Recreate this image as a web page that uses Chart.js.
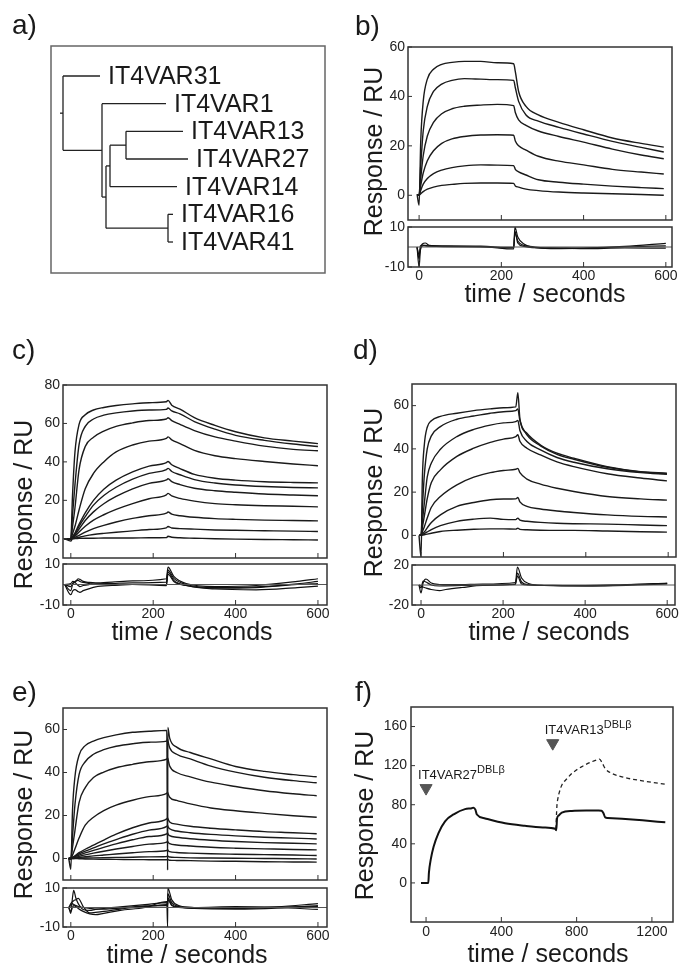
<!DOCTYPE html>
<html>
<head>
<meta charset="utf-8">
<script src="https://cdn.jsdelivr.net/npm/chart.js@4.4.1/dist/chart.umd.min.js"></script>
<style>
  body { margin: 0; background: #fff; }
  #page { position: relative; width: 680px; height: 970px; overflow: hidden; background: #fff;
          font-family: "Liberation Sans", Arial, sans-serif; color: #1a1a1a; }
  #page canvas { position: absolute; left: 0; top: 0; }
  .tag { position: absolute; font-size: 28px; line-height: 28px; }
  .xt { position: absolute; width: 240px; text-align: center; font-size: 25px; line-height: 25px; white-space: nowrap; }
  .yt { position: absolute; width: 240px; height: 25px; text-align: center; font-size: 25px; line-height: 25px;
        white-space: nowrap; transform: rotate(-90deg); }
</style>
</head>
<body>
<div id="page">
  <canvas id="treeA" width="680" height="970"></canvas>
  <canvas id="mainB" width="680" height="970"></canvas>
  <canvas id="residB" width="680" height="970"></canvas>
  <canvas id="mainC" width="680" height="970"></canvas>
  <canvas id="residC" width="680" height="970"></canvas>
  <canvas id="mainD" width="680" height="970"></canvas>
  <canvas id="residD" width="680" height="970"></canvas>
  <canvas id="mainE" width="680" height="970"></canvas>
  <canvas id="residE" width="680" height="970"></canvas>
  <canvas id="plotF" width="680" height="970"></canvas>

  <div class="tag" style="left:12px;top:11px">a)</div>
  <div class="tag" style="left:355px;top:12px">b)</div>
  <div class="tag" style="left:12px;top:336px">c)</div>
  <div class="tag" style="left:353px;top:336px">d)</div>
  <div class="tag" style="left:12px;top:678px">e)</div>
  <div class="tag" style="left:355px;top:678px">f)</div>

  <div class="yt" style="left:253px;top:139px">Response / RU</div>
  <div class="yt" style="left:-97px;top:492px">Response / RU</div>
  <div class="yt" style="left:253px;top:480px">Response / RU</div>
  <div class="yt" style="left:-97px;top:802px">Response / RU</div>
  <div class="yt" style="left:244px;top:803px">Response / RU</div>

  <div class="xt" style="left:425px;top:281px">time / seconds</div>
  <div class="xt" style="left:72px;top:619px">time / seconds</div>
  <div class="xt" style="left:429px;top:619px">time / seconds</div>
  <div class="xt" style="left:67px;top:942px">time / seconds</div>
  <div class="xt" style="left:428px;top:941px">time / seconds</div>
</div>
<script>
// ---- a) tree ----
const cladeNames = ["root", "n1", "n2", "n3", "n4", "n5",
  "IT4VAR31", "IT4VAR1", "IT4VAR13", "IT4VAR27", "IT4VAR14", "IT4VAR16", "IT4VAR41"];
const cladeParents = [null, "root", "n1", "n2", "n3", "n2",
  "root", "n1", "n4", "n4", "n3", "n5", "n5"];
const cladeDepths = [0, 0.39, 0.43, 0.47, 0.63, 1.05, 0.37, 1.03, 1.20, 1.25, 1.14, 1.10, 1.10];

// ---- b) ----
const bTime = [-5, 0, 4, 10, 20, 35, 55, 80, 110, 150, 190, 230, 234, 242, 260, 290, 340, 400, 470, 540, 595];
const bResponse = [
  [0.5, -4, 22, 38, 47, 51, 53, 53.8, 54.2, 54.2, 53.6, 53.2, 50, 42, 36, 32.5, 29.5, 26.5, 23.2, 21, 19.5],
  [0, 0, 12, 26, 36, 42, 45, 46.5, 47.2, 47, 46.8, 46.5, 43.5, 38, 32.5, 30, 27.5, 24.8, 21.8, 19.4, 17.5],
  [0, 0, 7, 16, 24, 29.5, 33, 35, 36, 36.5, 36.8, 36.3, 33.5, 30.5, 28.3, 26, 23.8, 21.5, 18.7, 16.3, 14.8],
  [0, 0, 4, 9, 14, 18, 21, 22.8, 23.8, 24.4, 24.5, 24.3, 22, 20, 18.3, 15.8, 13.8, 12.3, 10.5, 9.4, 8.6],
  [0, 0, 2, 4.5, 6.8, 8.8, 10.2, 11.2, 11.9, 12.3, 12.2, 12, 10.5, 9.5, 8.2, 6.3, 5.3, 4.5, 3.7, 3.1, 2.7],
  [0, 0, 0.6, 1.5, 2.5, 3.3, 4, 4.4, 4.8, 5, 5, 4.8, 3.8, 3.3, 2.5, 1.9, 1.3, 0.9, 0.6, 0.3, 0]
];
const bResTime = [-5, 0, 3, 8, 15, 25, 60, 150, 230, 233, 240, 255, 275, 320, 400, 500, 600];
const bResidual = [
  [0, -10, -2, 1.5, 2, 0.8, 0.6, 0.4, -0.5, 10, 5, 1.5, 0, -0.8, -0.6, 0.3, 1.8],
  [0, -4, -1, 0.5, 0.8, 0.5, 0.2, 0.2, -1, 7, 3, 0.8, 0.2, -0.6, -0.5, 0, 0.6],
  [0, -6, 0.5, 1, 0.6, 0.4, 0.3, 0, -0.2, 8, 2, 0.3, -0.3, -0.4, -0.8, -0.5, -0.6]
];

// ---- c) ----
const cTime = [-15, 0, 4, 10, 20, 35, 55, 80, 110, 150, 190, 232, 236, 245, 265, 300, 350, 400, 470, 540, 600];
const cResponse = [
  [0, 0, 22, 45, 59.5, 64.5, 67, 68.3, 69.3, 70.2, 70.8, 71.3, 72, 69.5, 67.5, 63, 59, 55.7, 52.5, 50.8, 49.5],
  [0, 0, 12, 28, 49, 58.5, 62.3, 64.3, 65.5, 66.5, 67, 67.3, 68, 66.5, 65, 61, 57, 53.8, 51.2, 49.3, 48],
  [0, 0, 6, 16, 36, 48, 52.8, 56, 58.5, 60.3, 61.5, 62.3, 63, 61.5, 59.5, 56.3, 53, 50.8, 48.2, 46.5, 45.8],
  [0, 0, 2.5, 6.5, 15, 26, 34, 40, 45.2, 48.8, 50.8, 52.2, 53, 51.5, 49.5, 46, 43.2, 41.7, 40.2, 38.9, 38],
  [0, 0, 1, 3, 7.5, 13.5, 20, 25.8, 30.5, 34.8, 37.8, 39.6, 40.2, 38.5, 36.5, 33.5, 31.5, 30.5, 29.7, 29.3, 29.1],
  [0, 0, 0.8, 2.5, 6.5, 11.5, 17.5, 22.5, 26.8, 31, 34, 36, 36.6, 35, 33.3, 30.8, 29, 28, 27.2, 26.7, 26.5],
  [0, 0, 0.6, 2, 5, 9.5, 14, 18.2, 22, 26, 28.8, 30.6, 31.2, 29.7, 28.2, 26.3, 25, 24.2, 23.3, 22.8, 22.4],
  [0, 0, 0.4, 1.3, 3.5, 6.5, 9.7, 12.5, 15.3, 18.3, 20.8, 22.9, 23.6, 22.3, 21, 19.6, 18.3, 17.7, 17.2, 16.9, 16.6],
  [0, 0, 0.2, 0.7, 1.8, 3.5, 5.3, 7, 8.7, 10.6, 12, 13.3, 13.9, 12.8, 12, 11.2, 10.5, 10.1, 9.7, 9.5, 9.3],
  [0, 0, 0.1, 0.3, 0.8, 1.5, 2.2, 2.8, 3.4, 4.1, 4.8, 5.7, 6.4, 5.6, 5.3, 5, 4.6, 4.4, 4.2, 4, 3.8],
  [0, -1.2, 0, 0.1, 0.2, 0.3, 0.3, 0.4, 0.4, 0.4, 0.5, 0.6, 1.3, 0.8, 0.5, 0.3, 0, -0.2, -0.4, -0.5, -0.6]
];
const cResTime = [-15, 0, 5, 10, 18, 22, 30, 45, 60, 100, 150, 232, 236, 250, 280, 350, 450, 550, 600];
const cResidual = [
  [0, -3, 0.5, 1, 2.8, 2.5, 1.5, 1, 0.8, 1.2, 1.8, 2.8, 8.5, 4, 0.5, -1, -0.5, 1.5, 2.8],
  [0, -5, -3, -2.5, -3.5, -3.8, -3, -2, -1.2, -0.5, 0, 0, 6, 2, -0.5, -2.2, -2.6, -1.5, -0.8],
  [0, 0.5, 1.5, 1, -0.5, -1, -0.5, 0, 0.3, 0.5, 0.8, 1.2, 7, 3, 0, -1.5, -1.2, 0.3, 1.5],
  [0, -1, 0.5, 1.5, 2, 1.5, 1, 0.5, 0, -0.2, 0, -0.5, 5, 1.5, -0.5, -1.8, -1.5, 0, 0.5]
];

// ---- d) ----
const dTime = [-5, 0, 3, 8, 15, 25, 47, 87, 128, 168, 200, 230, 235, 240, 257, 290, 330, 371, 452, 533, 597];
const dResponse = [
  [0, -10, 25, 42, 50, 53, 55, 56.5, 57.7, 58.5, 59, 59.4, 66, 54, 47.2, 41.8, 38, 35.7, 31.8, 29.5, 28.8],
  [0, 0, 12, 28, 40, 46, 50.3, 53.7, 55.2, 56.5, 57.2, 57.7, 58.5, 53, 46.5, 41.4, 37.5, 35.2, 31.5, 29.3, 28.5],
  [0, 0, 6, 15, 27, 33.5, 39.8, 45.7, 49, 51, 52, 52.6, 53.2, 48.5, 43.4, 39.5, 36, 33.8, 30.8, 29, 28.2],
  [0, 0, 3.5, 9, 17, 24.5, 30.3, 36.5, 40.3, 43, 44.5, 45.7, 46.5, 43.5, 40.3, 37.2, 34, 31.8, 28.5, 26.5, 25.2],
  [0, 0, 1.5, 4, 8, 13, 18, 23.4, 26.9, 29, 30, 30.6, 31, 29, 26, 23.7, 21.8, 20.3, 18, 16.9, 16.3],
  [0, 0, 0.6, 1.6, 3.5, 6, 9.5, 13.4, 15.2, 16.5, 16.8, 16.9, 17.5, 15.5, 13.4, 12.2, 11.3, 10.6, 9.5, 8.8, 8.5],
  [0, 0, 0.3, 0.8, 1.6, 2.7, 4.5, 6.5, 7.5, 8, 7.4, 7.3, 8, 7, 6.5, 6, 5.6, 5.4, 5.2, 4.8, 4.5],
  [0, 0, 0.1, 0.3, 0.6, 1, 1.8, 2.4, 2.8, 3, 3, 2.9, 3.3, 2.8, 2.6, 2.4, 2.3, 2.3, 2, 1.7, 1.5]
];
const dResTime = [-5, 0, 5, 12, 25, 45, 60, 100, 150, 230, 235, 245, 262, 300, 400, 500, 600];
const dResidual = [
  [0, -8, 2, 6, 2, 0.5, 0.3, 0.5, 1, 2.5, 18, 7, 1.5, -0.5, -1, 0, 2],
  [0, -3, 4, 3, 0, -1, -0.8, -0.5, 0, 0.5, 12, 3, 0.3, -0.3, -0.8, -0.3, 1],
  [0, -1, -2, -3, -4.5, -5.6, -4.5, -2.5, -0.5, 1, 9, 1, 0, -0.5, -0.5, 0.5, 1.5]
];

// ---- e) ----
const eTime = [-5, 0, 4, 10, 20, 35, 55, 80, 110, 150, 190, 233, 235, 235.5, 240, 257, 290, 340, 400, 470, 540, 597];
const eResponse = [
  [0, -5, 22, 38, 48, 52.5, 54.6, 56.2, 57.5, 58.7, 59.2, 59.6, -5.4, 61, 56, 51.8, 49.3, 46.3, 42.8, 40.5, 39, 38],
  [0, 0, 10, 25, 39, 45, 48.5, 50.6, 52.2, 53.4, 54.1, 54.6, 55.5, 55, 51.5, 48.5, 46.3, 43, 40.2, 37.8, 36.2, 35.2],
  [0, 0, 5, 13, 26, 33, 37.7, 40.2, 42.2, 43.8, 45, 46.2, 46.8, 46.5, 43, 40, 38, 35.5, 33.5, 31.5, 30.1, 29.2],
  [0, 0, 1.5, 4.5, 9.5, 15.5, 19.2, 22.3, 24.8, 27.1, 28.8, 30.3, 30.8, 30.5, 28.5, 27, 25.4, 23.5, 22.2, 21, 19.9, 19.2],
  [0, 0, 0.5, 1.3, 2.7, 4.3, 6.2, 8.6, 11.3, 14.3, 16.5, 18.4, 18.9, 18.6, 17, 16, 15, 14.1, 13.3, 12.5, 12, 11.5],
  [0, 0, 0.4, 1, 2.1, 3.4, 4.9, 6.8, 8.8, 11.3, 13.2, 14.9, 15.4, 15, 13.8, 12.8, 12, 11.2, 10.5, 9.9, 9.5, 9.1],
  [0, 0, 0.3, 0.8, 1.6, 2.6, 3.8, 5.2, 6.8, 8.7, 10.2, 11.5, 12, 11.6, 10.6, 9.9, 9.2, 8.5, 7.9, 7.4, 7.1, 6.8],
  [0, 0, 0.2, 0.5, 1, 1.7, 2.5, 3.4, 4.4, 5.6, 6.7, 7.6, 8.1, 7.8, 6.9, 6.3, 5.8, 5.2, 4.8, 4.5, 4.2, 4],
  [0, 0, 0.1, 0.2, 0.5, 0.8, 1.2, 1.6, 2.1, 2.7, 3.2, 3.7, 4.2, 3.9, 3.2, 2.8, 2.5, 2.2, 2, 1.8, 1.6, 1.4],
  [0, 0, 0, 0.05, 0.1, 0.2, 0.3, 0.4, 0.5, 0.6, 0.75, 0.9, 1.4, 1.1, 0.7, 0.5, 0.3, 0.2, 0.1, 0, -0.1, -0.2],
  [0, 0, 0, -0.05, -0.1, -0.2, -0.3, -0.35, -0.4, -0.5, -0.55, -0.6, -0.2, -0.5, -0.8, -0.9, -1, -1.2, -1.3, -1.5, -1.6, -1.7]
];
const eResTime = [-5, 0, 4, 7, 12, 18, 30, 46, 60, 80, 120, 180, 233, 235, 235.5, 245, 262, 300, 400, 500, 600];
const eResidual = [
  [0, -3, 5, 8.8, 5, 2, -1, -1.5, -1, -0.5, 0.3, 1.5, 2.5, -10, 10, 4, 1, 0, -0.5, 0.3, 2],
  [0, 2, 3, 3.5, 4, 4.7, 0.5, -2.8, -2.5, -2, -0.8, 0.5, 1.5, 2, 7, 2.5, 0.5, -0.5, -0.8, -0.3, 1],
  [0, -2, 0, 1, 0.5, -0.5, -2, -3.3, -3.7, -3, -1.5, 0, 3, 3, 5, 1.5, 0.3, 0, 0.5, 0, -1],
  [0, 1, 2, 1.5, 1, 0.5, 0, -0.5, -0.8, -0.8, -0.3, 0.8, 1, 1, 4, 1, 0, -0.3, 0, 0.2, 0.5]
];

// ---- f) ----
const fSolidTime = [-27, 12, 15, 25, 40, 66, 101, 154, 207, 243, 252, 262, 270, 314, 420, 527, 620, 686, 692, 696,
  705, 721, 775, 850, 917, 932, 942, 952, 965, 1041, 1150, 1271];
const fSolidResp = [0, 0, 10, 24, 37, 51, 63, 71, 75.5, 76.5, 77, 75, 70, 66, 61, 58.4, 56.8, 55.4, 54, 66,
  69, 72, 73.7, 74, 74, 73.8, 71.5, 67, 66.5, 65.6, 64, 62];
const fDashTime = [690, 695, 700, 710, 721, 750, 775, 828, 881, 917, 922, 935, 952, 988, 1058, 1165, 1271];
const fDashResp = [55, 78, 86, 94, 100, 107, 112, 119, 124, 126.4, 126.7, 123, 117, 112, 107.7, 104, 101];
const fMarkTime = [0, 673];
const fMarkResp = [97, 143];
const fMarkNames = ["IT4VAR27", "IT4VAR13"];

const sprTicks = [0, 200, 400, 600];
const FONT = '"Liberation Sans", Arial, sans-serif';

// frame box + inward tick marks, like the original plots
const framePlugin = {
    id: "frame",
    afterDatasetsDraw(chart, args, opts) {
        const { ctx, chartArea: a, scales } = chart;
        ctx.save();
        ctx.strokeStyle = opts.color || "#333";
        if (opts.ticks) {
            ctx.lineWidth = 1;
            scales.x.ticks.forEach(t => {
                const px = scales.x.getPixelForValue(t.value);
                ctx.beginPath(); ctx.moveTo(px, a.bottom); ctx.lineTo(px, a.bottom - 5); ctx.stroke();
            });
            scales.y.ticks.forEach(t => {
                const py = scales.y.getPixelForValue(t.value);
                ctx.beginPath(); ctx.moveTo(a.left, py); ctx.lineTo(a.left + 4, py); ctx.stroke();
            });
        }
        ctx.lineWidth = opts.width || 1.5;
        ctx.strokeRect(a.left, a.top, a.right - a.left, a.bottom - a.top);
        ctx.restore();
    }
};

const toPoints = (xs, ys) => xs.map((x, i) => ({ x: x, y: ys[i] }));

function curve(xs, ys, width, color) {
    return {
        data: toPoints(xs, ys), showLine: true, pointRadius: 0,
        borderWidth: width || 1.4, borderColor: color || "#1a1a1a",
        cubicInterpolationMode: "monotone"
    };
}

function zeroLine(xr) {
    return { data: [{ x: xr[0], y: 0 }, { x: xr[1], y: 0 }], showLine: true, pointRadius: 0, borderWidth: 1, borderColor: "#555" };
}

function makePlot(id, s) {
    const [l, t, r, b] = s.box;
    const wy = 40;
    const hx = s.xLabels ? 20 : 0;
    return new Chart(document.getElementById(id), {
        type: "scatter",
        data: { datasets: s.datasets },
        options: {
            responsive: false,
            animation: false,
            events: [],
            layout: { autoPadding: false, padding: { left: l - wy, top: t, right: 680 - r, bottom: 970 - b - hx } },
            plugins: {
                legend: { display: false },
                tooltip: { enabled: false },
                frame: { ticks: s.innerTicks !== false, color: s.frameColor || "#333", width: 1.5 }
            },
            scales: {
                x: {
                    type: "linear", position: "bottom", min: s.x[0], max: s.x[1],
                    grid: { display: false, drawTicks: false }, border: { display: false },
                    ticks: { display: !!s.xLabels, padding: s.xPad || 1, color: "#222", font: { family: FONT, size: 14 },
                             callback: v => String(v) },
                    afterBuildTicks: sc => { sc.ticks = (s.xTicks || []).map(v => ({ value: v })); },
                    afterFit: sc => { sc.height = hx; }
                },
                y: {
                    type: "linear", position: "left", min: s.y[0], max: s.y[1], reverse: !!s.yReverse,
                    grid: { display: false, drawTicks: false }, border: { display: false },
                    ticks: { display: s.yLabels !== false, padding: s.yPad || 3, color: "#222", font: { family: FONT, size: 14 },
                             callback: v => String(v) },
                    afterBuildTicks: sc => { sc.ticks = (s.yTicks || []).map(v => ({ value: v })); },
                    afterFit: sc => { sc.width = wy; }
                }
            }
        },
        plugins: [framePlugin].concat(s.plugins || [])
    });
}

// ---- a) tree build ----
const clades = cladeNames.map((name, i) => ({ name: name, parent: cladeParents[i], depth: cladeDepths[i], kids: [] }));
const byName = {};
clades.forEach(c => { byName[c.name] = c; });
clades.forEach(c => { if (c.parent) byName[c.parent].kids.push(c); });
let leafRow = 0;
function placeRows(c) {
    if (!c.kids.length) { c.row = leafRow++; return c.row; }
    // tree is drawn top-down: outer leaf first
    const order = c.name === "root" ? [byName["IT4VAR31"], byName["n1"]] :
                  c.name === "n1" ? [byName["IT4VAR1"], byName["n2"]] :
                  c.name === "n3" ? [byName["n4"], byName["IT4VAR14"]] : c.kids;
    c.kids = order;
    const rows = order.map(placeRows);
    c.row = (rows[0] + rows[rows.length - 1]) / 2;
    return c.row;
}
placeRows(byName["root"]);

const treeSets = [];
const branch = (x0, y0, x1, y1) => ({ data: [{ x: x0, y: y0 }, { x: x1, y: y1 }], showLine: true, pointRadius: 0, borderWidth: 1.3, borderColor: "#222" });
clades.forEach(c => {
    if (c.parent) treeSets.push(branch(byName[c.parent].depth, c.row, c.depth, c.row));
    if (c.kids.length) treeSets.push(branch(c.depth, c.kids[0].row, c.depth, c.kids[c.kids.length - 1].row));
});
treeSets.push(branch(-0.03, byName["root"].row, 0, byName["root"].row));

const leafLabelPlugin = {
    id: "leafLabels",
    afterDatasetsDraw(chart) {
        const { ctx, scales: { x, y } } = chart;
        ctx.save();
        ctx.font = "25px " + FONT;
        ctx.fillStyle = "#1a1a1a";
        ctx.textBaseline = "middle";
        clades.filter(c => !c.kids.length).forEach(c => {
            ctx.fillText(c.name, x.getPixelForValue(c.depth) + 8, y.getPixelForValue(c.row) + 1);
        });
        ctx.restore();
    }
};

makePlot("treeA", {
    box: [51, 46, 325, 273], x: [-0.12, 2.62], y: [-1.084, 7.12], yReverse: true,
    yLabels: false, innerTicks: false, frameColor: "#666",
    datasets: treeSets, plugins: [leafLabelPlugin]
});

// ---- sensorgram panels ----
function sprPanel(key, mainBox, residBox, xr, yr, yTicks, rr, rTicks, time, resp, resTime, resid) {
    makePlot("main" + key, {
        box: mainBox, x: xr, y: yr, xTicks: sprTicks, yTicks: yTicks,
        datasets: resp.map(v => curve(time, v))
    });
    makePlot("resid" + key, {
        box: residBox, x: xr, y: rr, xTicks: sprTicks, yTicks: rTicks, xLabels: true,
        datasets: [zeroLine(xr)].concat(resid.map(v => curve(resTime, v, 1.2, "#111")))
    });
}

sprPanel("B", [408, 47, 672, 220], [408, 227, 672, 267], [-27, 615], [-10, 60], [0, 20, 40, 60],
    [-10, 10], [-10, 10], bTime, bResponse, bResTime, bResidual);
sprPanel("C", [63, 385, 327, 558], [63, 564, 327, 605], [-19, 622], [-10, 80], [0, 20, 40, 60, 80],
    [-10, 10], [-10, 10], cTime, cResponse, cResTime, cResidual);
sprPanel("D", [412, 384, 676, 557], [412, 565, 676, 605], [-22, 619], [-10, 70], [0, 20, 40, 60],
    [-20, 20], [-20, 20], dTime, dResponse, dResTime, dResidual);
sprPanel("E", [63, 708, 327, 880], [63, 888, 327, 927], [-19, 622], [-10, 70], [0, 20, 40, 60],
    [-10, 10], [-10, 10], eTime, eResponse, eResTime, eResidual);

// ---- f) ----
const injectionPlugin = {
    id: "injections",
    afterDatasetsDraw(chart) {
        const { ctx, scales: { x, y } } = chart;
        ctx.save();
        ctx.fillStyle = "#1a1a1a";
        ctx.textBaseline = "alphabetic";
        fMarkTime.forEach((t, i) => {
            const px = x.getPixelForValue(t) - 8;
            const py = y.getPixelForValue(fMarkResp[i]) - 9;
            ctx.font = "13px " + FONT;
            ctx.fillText(fMarkNames[i], px, py);
            const w = ctx.measureText(fMarkNames[i]).width;
            ctx.font = "11px " + FONT;
            ctx.fillText("DBLβ", px + w, py - 6);
        });
        ctx.restore();
    }
};

const fDash = curve(fDashTime, fDashResp, 1.3, "#222");
fDash.borderDash = [4, 3];
makePlot("plotF", {
    box: [411, 707, 673, 922], x: [-80, 1312], y: [-40, 180],
    xTicks: [0, 400, 800, 1200], yTicks: [0, 40, 80, 120, 160], xLabels: true, xPad: 2, yPad: 4,
    datasets: [
        curve(fSolidTime, fSolidResp, 2, "#111"),
        fDash,
        { data: toPoints(fMarkTime, fMarkResp), pointStyle: "triangle", rotation: 180, pointRadius: 7,
          backgroundColor: "#555", borderColor: "#555", borderWidth: 1 }
    ],
    plugins: [injectionPlugin]
});
</script>
</body>
</html>
